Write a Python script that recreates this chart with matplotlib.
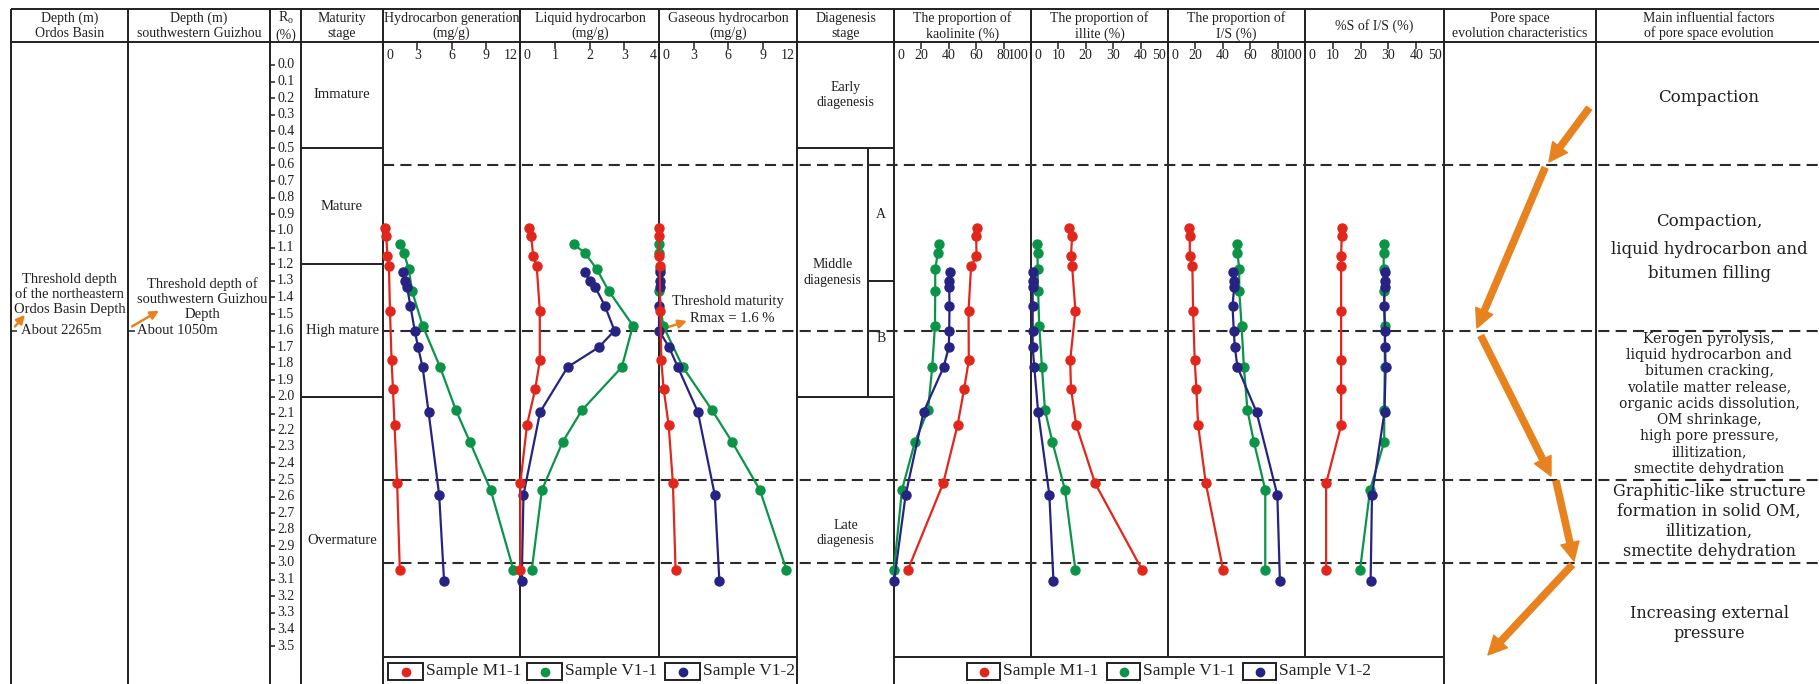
import matplotlib.pyplot as plt
from matplotlib.patches import Rectangle
from matplotlib.transforms import blended_transform_factory

plt.rcParams['font.family'] = ['Liberation Serif', 'DejaVu Serif']
plt.rcParams['mathtext.fontset'] = 'custom'
plt.rcParams['lines.scale_dashes'] = False

INK = '#231f20'
ORANGE = '#e8821e'
C_M11, C_V11, C_V12 = '#e1261c', '#0b9447', '#272383'

# ---- sample data (Ro %) ----
ro_m11 = [0.98, 1.03, 1.15, 1.21, 1.48, 1.78, 1.95, 2.17, 2.52, 3.04]
ro_v11 = [1.08, 1.13, 1.23, 1.36, 1.57, 1.82, 2.08, 2.27, 2.56, 3.04]
ro_v12 = [1.25, 1.30, 1.34, 1.45, 1.60, 1.70, 1.82, 2.09, 2.59, 3.11]

hcgen_m11 = [0.14, 0.29, 0.38, 0.52, 0.61, 0.75, 0.87, 1.01, 1.24, 1.47]
hcgen_v11 = [1.53, 1.82, 2.26, 2.54, 3.47, 5.00, 6.39, 7.61, 9.43, 11.42]
hcgen_v12 = [1.76, 1.91, 2.11, 2.40, 2.78, 3.07, 3.47, 3.99, 4.92, 5.35]

liq_m11 = [0.25, 0.32, 0.38, 0.48, 0.57, 0.57, 0.44, 0.20, 0.01, 0.01]
liq_v11 = [1.54, 1.86, 2.21, 2.55, 3.25, 2.93, 1.78, 1.23, 0.63, 0.34]
liq_v12 = [1.88, 2.00, 2.17, 2.44, 2.72, 2.27, 1.37, 0.58, 0.10, 0.05]

gas_m11 = [0.0, 0.0, 0.0, 0.06, 0.12, 0.20, 0.40, 0.84, 1.21, 1.44]
gas_v11 = [0.0, 0.0, 0.06, 0.0, 0.35, 2.08, 4.62, 6.35, 8.77, 11.08]
gas_v12 = [0.10, 0.06, 0.06, 0.0, 0.0, 0.87, 1.64, 3.38, 4.85, 5.25]

kaol_m11 = [60.4, 60.0, 60.2, 56.3, 54.4, 54.6, 51.2, 46.4, 35.9, 10.2]
kaol_v11 = [32.8, 32.0, 30.1, 30.1, 29.9, 27.9, 24.8, 15.3, 5.8, 0.0]
kaol_v12 = [40.8, 40.3, 40.3, 40.5, 40.3, 40.0, 36.2, 21.6, 8.5, 0.0]

ill_m11 = [14.0, 15.0, 14.6, 15.0, 16.2, 14.3, 14.6, 16.5, 23.4, 40.5]
ill_v11 = [2.3, 2.4, 2.4, 2.6, 3.0, 4.0, 5.1, 7.8, 12.4, 16.2]
ill_v12 = [0.9, 0.6, 0.6, 0.6, 0.6, 0.6, 1.2, 2.6, 6.7, 8.2]

is_m11 = [15.6, 15.9, 15.9, 17.8, 18.3, 19.5, 20.7, 22.0, 27.6, 40.2]
is_v11 = [50.0, 50.7, 52.0, 52.0, 53.7, 55.4, 58.0, 62.7, 71.0, 71.0]
is_v12 = [47.6, 48.3, 48.3, 47.1, 48.0, 48.8, 50.7, 64.6, 79.8, 81.7]

s_m11 = [13.2, 13.2, 13.0, 13.0, 13.0, 13.0, 13.0, 13.0, 7.6, 7.6]
s_v11 = [28.3, 28.3, 28.3, 28.4, 28.7, 28.7, 28.5, 28.5, 23.4, 19.8]
s_v12 = [28.6, 28.6, 28.6, 28.5, 28.8, 28.8, 29.0, 28.6, 24.1, 23.6]

samples = ['Sample M1-1', 'Sample V1-1', 'Sample V1-2']
colors = [C_M11, C_V11, C_V12]
ro_samples = [ro_m11, ro_v11, ro_v12]

maturity_bounds = [0.5, 1.2, 2.0]
maturity_names = ['Immature', 'Mature', 'High mature', 'Overmature']
dashed_ro = [0.6, 1.6, 2.5, 3.0]
ro_ticks = [i / 10 for i in range(36)]

# ---- layout (pixels) ----
W, H = 1819, 684
RO0, PXRO = 65.0, 166.0          # pixel row of Ro = 0 and pixels per 1 % Ro
TOP, HEAD, LEG = 9, 42, 657


def ro_of(ypx):
    return (ypx - RO0) / PXRO


fig = plt.figure(figsize=(W / 100, H / 100), dpi=100)
bg = fig.add_axes([0, 0, 1, 1])
bg.set_xlim(0, W)
bg.set_ylim(H, 0)
bg.axis('off')
ro = fig.add_axes([0, 0, 1, 1])
ro.set_xlim(0, W)
ro.set_ylim(ro_of(H), ro_of(0))
ro.axis('off')
ro.patch.set_alpha(0)

LW = 1.4
# table frame
bg.hlines([TOP, HEAD], 11, W, color=INK, lw=LW)
bg.vlines([11, 128, 270, 301, 383, 797, 894, 1444, 1596], TOP, H, color=INK, lw=LW)
bg.vlines([520, 659, 1031, 1168, 1305], TOP, LEG, color=INK, lw=LW)
bg.hlines(LEG, 383, 797, color=INK, lw=LW)
bg.hlines(LEG, 894, 1444, color=INK, lw=LW)

# headers
head_y = (TOP + HEAD) / 2 + 0.5
headers = [
    (69.5, 'Depth (m)\nOrdos Basin'),
    (199, 'Depth (m)\nsouthwestern Guizhou'),
    (285.5, 'R$_\\mathregular{o}$\n(%)'),
    (342, 'Maturity\nstage'),
    (451.5, 'Hydrocarbon generation\n(mg/g)'),
    (590, 'Liquid hydrocarbon\n(mg/g)'),
    (728, 'Gaseous hydrocarbon\n(mg/g)'),
    (845.5, 'Diagenesis\nstage'),
    (962.5, 'The proportion of\nkaolinite (%)'),
    (1099.5, 'The proportion of\nillite (%)'),
    (1236.5, 'The proportion of\nI/S (%)'),
    (1374.5, '%S of I/S (%)'),
    (1520, 'Pore space\nevolution characteristics'),
    (1709, 'Main influential factors\nof pore space evolution'),
]
for x, t in headers:
    bg.text(x, head_y, t, ha='center', va='center', fontsize=10, color=INK,
            linespacing=1.2)

# Ro scale
ro.hlines(ro_ticks, 270, 275, color=INK, lw=1.1)
for t in ro_ticks:
    ro.text(277, t, f'{t:.1f}', ha='left', va='center', fontsize=10, color=INK)

# maturity stage
ro.hlines(maturity_bounds, 301, 383, color=INK, lw=LW)
mb = [ro_of(HEAD)] + maturity_bounds + [ro_of(H)]
for i, name in enumerate(maturity_names):
    ro.text(342, (mb[i] + mb[i + 1]) / 2, name, ha='center', va='center',
            fontsize=10.5, color=INK)

# diagenesis stage
ro.hlines([0.5, 2.0], 797, 894, color=INK, lw=LW)
ro.vlines(868, 0.5, 2.0, color=INK, lw=LW)
ro.hlines(1.3, 868, 894, color=INK, lw=LW)
dg = dict(ha='center', va='center', fontsize=10, color=INK, linespacing=1.25)
ro.text(845.5, (ro_of(HEAD) + 0.5) / 2, 'Early\ndiagenesis', **dg)
ro.text(832.5, 1.25, 'Middle\ndiagenesis', **dg)
ro.text(881, 0.9, 'A', **dg)
ro.text(881, 1.65, 'B', **dg)
ro.text(845.5, 2.82, 'Late\ndiagenesis', **dg)

# dashed boundaries
ro.hlines(dashed_ro, 383, W, color='#2b2b2b', lw=1.5, linestyles=(0, (8, 4.5)))

# threshold depths
ro.hlines(1.6, 11, 17, color=INK, lw=1.1)
ro.hlines(1.6, 128, 135, color=INK, lw=1.1)
ro.text(69.5, 1.385, 'Threshold depth\nof the northeastern\nOrdos Basin Depth',
        ha='center', va='center', fontsize=10.5, color=INK, linespacing=1.2)
ro.text(21, 1.6, 'About 2265m', ha='left', va='center', fontsize=10.5, color=INK)
ro.text(202, 1.41, 'Threshold depth of\nsouthwestern Guizhou\nDepth',
        ha='center', va='center', fontsize=10.5, color=INK, linespacing=1.2)
ro.text(137, 1.6, 'About 1050m', ha='left', va='center', fontsize=10.5, color=INK)
small_arrow = dict(arrowstyle='-|>,head_length=0.5,head_width=0.25', color=ORANGE,
                   lw=1.8, shrinkA=0, shrinkB=0)
ro.annotate('', xy=(25, 1.505), xytext=(15, 1.575), arrowprops=small_arrow)
ro.annotate('', xy=(159, 1.48), xytext=(132, 1.575), arrowprops=small_arrow)

# data panels
panels = [
    (383, 520, 12, [0, 3, 6, 9, 12], [hcgen_m11, hcgen_v11, hcgen_v12]),
    (520, 659, 4, [0, 1, 2, 3, 4], [liq_m11, liq_v11, liq_v12]),
    (659, 797, 12, [0, 3, 6, 9, 12], [gas_m11, gas_v11, gas_v12]),
    (894, 1031, 100, [0, 20, 40, 60, 80, 100], [kaol_m11, kaol_v11, kaol_v12]),
    (1031, 1168, 50, [0, 10, 20, 30, 40, 50], [ill_m11, ill_v11, ill_v12]),
    (1168, 1305, 100, [0, 20, 40, 60, 80, 100], [is_m11, is_v11, is_v12]),
    (1305, 1444, 50, [0, 10, 20, 30, 40, 50], [s_m11, s_v11, s_v12]),
]
axes = []
for x0, x1, xmax, ticks, series in panels:
    ax = fig.add_axes([x0 / W, (H - LEG) / H, (x1 - x0) / W, (LEG - HEAD) / H])
    ax.set_xlim(0, xmax)
    ax.set_ylim(ro_of(LEG), ro_of(HEAD))
    ax.patch.set_alpha(0)
    for s in ax.spines.values():
        s.set_visible(False)
    ax.set_yticks([])
    ax.set_xticks(ticks)
    ax.tick_params(axis='x', direction='in', length=5, width=1.1, color=INK,
                   top=True, bottom=False, labeltop=False, labelbottom=False)
    tr = blended_transform_factory(ax.transData, ax.transAxes)
    for t in ticks:
        if t == 0:
            ha, dx = 'left', 2.5
        elif t == xmax:
            ha, dx = 'right', -1.5
        else:
            ha, dx = 'center', 0
        ax.annotate(f'{t}', xy=(t, 1), xycoords=tr, xytext=(dx, -9.5),
                    textcoords='offset points', ha=ha, va='center',
                    fontsize=10, color=INK)
    for i in [1, 2, 0]:
        ax.plot(series[i], ro_samples[i], '-o', color=colors[i], lw=1.6, ms=6.5,
                clip_on=False, zorder=3 + (i == 0))
    axes.append(ax)

# threshold maturity note in the gaseous panel
ro.text(728, ro_of(302), 'Threshold maturity', ha='center', va='center',
        fontsize=10.5, color=INK)
ro.text(732, ro_of(318), 'Rmax = 1.6 %', ha='center', va='center',
        fontsize=10.5, color=INK)
ro.annotate('', xy=(687, ro_of(321)), xytext=(665, 1.585), arrowprops=small_arrow)


# legends
def legend_row(xs, box_w):
    for x, name, c in zip(xs, samples, colors):
        bg.add_patch(Rectangle((x, 663), box_w, 17, fill=False, ec=INK, lw=1.4))
        bg.plot(x + box_w / 2, 671.5, 'o', color=c, ms=6)
        bg.text(x + box_w + 3, 671, name, ha='left', va='center', fontsize=12.5,
                color=INK)


legend_row([388, 527, 665], 35)
legend_row([967, 1107, 1243], 33)

# pore space evolution arrows (x in px, y in Ro)
pore_arrows = [((1589, 0.26), (1549, 0.584)),
               ((1545, 0.62), (1477, 1.584)),
               ((1481, 1.633), (1551, 2.476)),
               ((1556, 2.506), (1574, 2.988)),
               ((1572, 3.012), (1488, 3.554))]
big_arrow = dict(arrowstyle='simple,head_length=0.95,head_width=0.95,tail_width=0.32',
                 color=ORANGE, shrinkA=0, shrinkB=0, mutation_scale=14)
for start, end in pore_arrows:
    ro.annotate('', xy=end, xytext=start, arrowprops=big_arrow)

# main influential factors
factors = [
    ('Compaction', 98, 12),
    ('Compaction,', 221, 12),
    ('liquid hydrocarbon and', 250, 12),
    ('bitumen filling', 274, 12),
    ('Kerogen pyrolysis,', 339, 10),
    ('liquid hydrocarbon and', 355.2, 10),
    ('bitumen cracking,', 371.4, 10),
    ('volatile matter release,', 387.6, 10),
    ('organic acids dissolution,', 403.8, 10),
    ('OM shrinkage,', 420, 10),
    ('high pore pressure,', 436.2, 10),
    ('illitization,', 452.4, 10),
    ('smectite dehydration', 468.6, 10),
    ('Graphitic-like structure', 491, 11.5),
    ('formation in solid OM,', 511, 11.5),
    ('illitization,', 531, 11.5),
    ('smectite dehydration', 551, 11.5),
    ('Increasing external', 614, 11.5),
    ('pressure', 634, 11.5),
]
for t, y, fs in factors:
    bg.text(1709, y, t, ha='center', va='center', fontsize=fs, color=INK,
            family='DejaVu Serif')

fig.savefig('out.png', dpi=100)
